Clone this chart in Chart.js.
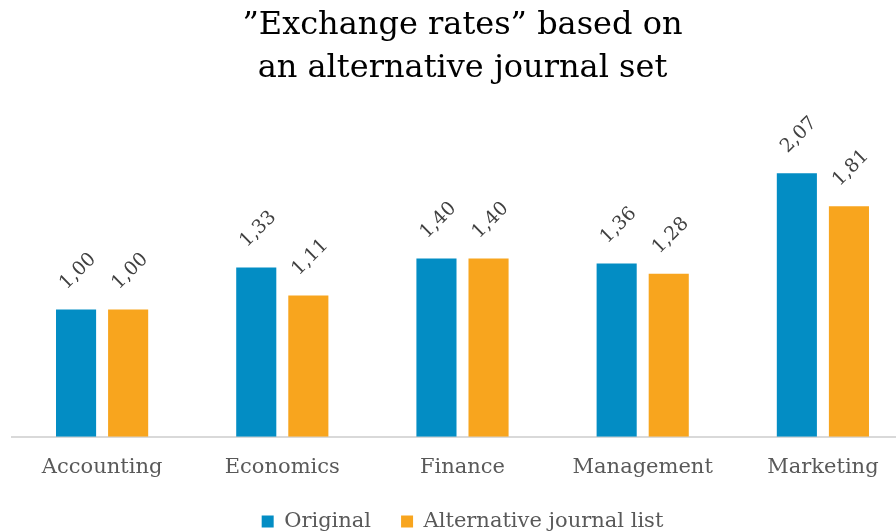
<!DOCTYPE html>
<html>
<head>
<meta charset="utf-8">
<script src="https://cdn.jsdelivr.net/npm/chart.js@4/dist/chart.umd.min.js"></script>
<style>
  html, body { margin: 0; padding: 0; background: #ffffff; overflow: hidden; }
  #wrap { width: 925px; height: 542px; }
</style>
</head>
<body>
<div id="wrap"><canvas id="chart" width="925" height="542"></canvas></div>
<script>
// Journal fields and their relative "exchange rates"
const categories = ['Accounting', 'Economics', 'Finance', 'Management', 'Marketing'];
const originalRates = [1.00, 1.33, 1.40, 1.36, 2.07];
const alternativeRates = [1.00, 1.11, 1.40, 1.28, 1.81];
const seriesNames = ['Original', 'Alternative journal list'];
const titleLines = ['\u201DExchange rates\u201D based on', 'an alternative journal set'];

const SERIF = '"DejaVu Serif", "Liberation Serif", serif';

// Rotated value labels above each bar, with a decimal comma
const valueLabels = {
  id: 'valueLabels',
  afterDatasetsDraw(chart) {
    const ctx = chart.ctx;
    ctx.save();
    ctx.font = '19px ' + SERIF;
    ctx.fillStyle = '#404040';
    ctx.textAlign = 'center';
    ctx.textBaseline = 'middle';
    chart.data.datasets.forEach((ds, di) => {
      chart.getDatasetMeta(di).data.forEach((bar, i) => {
        const text = ds.data[i].toFixed(2).replace('.', ',');
        ctx.save();
        ctx.translate(bar.x + 2, bar.y - 38);
        ctx.rotate(-Math.PI / 4);
        ctx.fillText(text, 0, 0);
        ctx.restore();
      });
    });
    ctx.restore();
  }
};

new Chart(document.getElementById('chart'), {
  type: 'bar',
  data: {
    labels: categories,
    datasets: [
      { label: seriesNames[0], data: originalRates, backgroundColor: '#038DC4' },
      { label: seriesNames[1], data: alternativeRates, backgroundColor: '#F8A51E' }
    ]
  },
  options: {
    responsive: false,
    animation: false,
    layout: { padding: { left: 12, right: 12, top: 0, bottom: 0 } },
    datasets: { bar: { categoryPercentage: 0.578, barPercentage: 0.77 } },
    scales: {
      x: {
        grid: { display: false, drawTicks: false },
        border: { display: true, color: '#d9d9d9', width: 2 },
        ticks: { color: '#595959', font: { family: SERIF, size: 21 }, padding: 18 },
        // tighten the band between the category labels and the legend
        afterFit(scale) { scale.height -= 17; }
      },
      y: { display: false, min: 0, max: 2.5 }
    },
    plugins: {
      title: {
        display: true,
        text: titleLines,
        color: '#000000',
        font: { family: SERIF, size: 32, weight: 'normal', lineHeight: 1.35 },
        padding: { top: 4, bottom: 28 }
      },
      legend: {
        position: 'bottom',
        labels: {
          color: '#595959',
          font: { family: SERIF, size: 21 },
          boxWidth: 12, boxHeight: 12, padding: 30
        }
      },
      tooltip: { enabled: false }
    }
  },
  plugins: [valueLabels]
});
</script>
</body>
</html>
